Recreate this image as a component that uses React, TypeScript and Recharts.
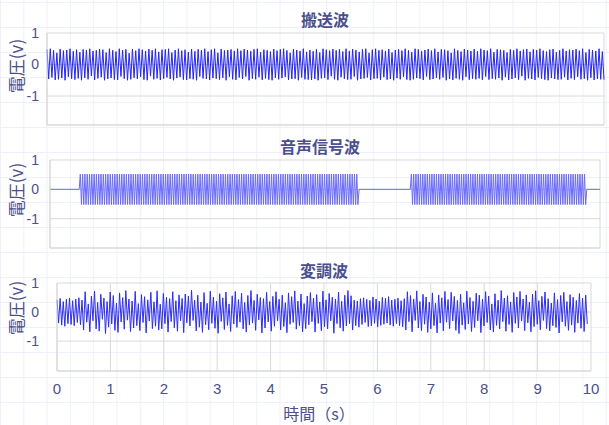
import React from 'react'
import { LineChart, Line, XAxis, YAxis, CartesianGrid } from 'recharts'

// 目盛り
const xTicks = [0, 1, 2, 3, 4, 5, 6, 7, 8, 9, 10]
const yTicks = [-1, 0, 1]

// 搬送波 (0〜10 s の標本値)
const carrierValues = [
  .48, -.46, .50, -.41, .45, -.49, .37, -.47, .49, -.43, .44, -.50, .46, -.39, .50, -.45, .42, -.48, .47, -.44,
  .39, -.50, .48, -.42, .46, -.47, .50, -.36, .43, -.49, .45, -.44, .49, -.40, .47, -.50, .38, -.46, .50, -.43,
  .45, -.48, .41, -.49, .50, -.38, .46, -.45, .48, -.50, .36, -.47, .49, -.42, .44, -.46, .50, -.39, .47, -.48,
  .43, -.50, .49, -.37, .45, -.47, .50, -.44, .40, -.49, .47, -.45, .48, -.41, .50, -.46, .38, -.50, .46, -.43,
  .50, -.40, .44, -.48, .47, -.49, .39, -.45, .49, -.47, .42, -.50, .48, -.38, .46, -.44, .50, -.46, .41, -.49,
  .47, -.43, .50, -.45, .37, -.48, .49, -.42, .45, -.50, .46, -.39, .48, -.47, .43, -.49, .50, -.41, .44, -.46,
  .49, -.38, .46, -.50, .42, -.45, .48, -.47, .50, -.40, .39, -.49, .47, -.44, .45, -.48, .41, -.50, .49, -.42,
  .44, -.47, .48, -.43, .50, -.39, .45, -.49, .37, -.46, .49, -.45, .46, -.50, .43, -.41, .50, -.47, .40, -.48,
  .46, -.49, .42, -.46, .48, -.50, .38, -.44, .50, -.42, .47, -.48, .44, -.37, .49, -.47, .45, -.50, .48, -.40,
  .41, -.45, .50, -.48, .43, -.47, .49, -.38, .46, -.50, .40, -.46, .48, -.44, .50, -.41, .37, -.49, .47, -.45,
  .50, -.44, .45, -.49, .47, -.40, .43, -.48, .49, -.46, .38, -.50, .46, -.43, .48, -.47, .44, -.39, .50, -.48,
  .45, -.50, .39, -.47, .50, -.43, .48, -.45, .42, -.49, .46, -.38, .49, -.48, .44, -.46, .50, -.42, .40, -.47,
  .48, -.41, .47, -.50, .44, -.46, .37, -.49, .50, -.44, .45, -.47, .41, -.50, .49, -.39, .46, -.48, .43, -.45,
  .49, -.47, .42, -.44, .50, -.49, .46, -.38, .44, -.48, .50, -.45, .39, -.47, .48, -.43, .47, -.50, .45, -.40,
  .38, -.49, .48, -.46, .45, -.42, .50, -.48, .43, -.37, .47, -.50, .49, -.44, .40, -.46, .48, -.49, .46, -.41,
  .50, -.45, .44, -.48, .41, -.50, .47, -.43, .49, -.46, .39, -.48, .45, -.47, .50, -.40, .43, -.49, .47, -.44,
  .46, -.48, .49, -.39, .44, -.47, .50, -.45, .38, -.50, .48, -.42, .46, -.49, .43, -.46, .50, -.47, .41, -.48,
]

// 音声信号波 (2つの区間、それ以外は 0)
const speechBurstA = [
  .52, -.52, .52, -.52, .52, -.52, .52, -.52, .52, -.52, .52, -.52, .52, -.52, .52, -.52, .52, -.52, .52, -.52,
  .52, -.52, .52, -.52, .52, -.52, .52, -.52, .52, -.52, .52, -.52, .52, -.52, .52, -.52, .52, -.52, .52, -.52,
  .52, -.52, .52, -.52, .52, -.52, .52, -.52, .52, -.52, .52, -.52, .52, -.52, .52, -.52, .52, -.52, .52, -.52,
  .52, -.52, .52, -.52, .52, -.52, .52, -.52, .52, -.52, .52, -.52, .52, -.52, .52, -.52, .52, -.52, .52, -.52,
  .52, -.52, .52, -.52, .52, -.52, .52, -.52, .52, -.52, .52, -.52, .52, -.52, .52, -.52, .52, -.52, .52, -.52,
  .52, -.52, .52, -.52, .52, -.52, .52, -.52, .52, -.52, .52, -.52, .52, -.52, .52, -.52, .52, -.52, .52, -.52,
  .52, -.52, .52, -.52, .52, -.52, .52, -.52, .52, -.52, .52, -.52, .52, -.52, .52, -.52, .52, -.52, .52, -.52,
  .52, -.52, .52, -.52, .52, -.52, .52, -.52, .52, -.52, .52, -.52, .52, -.52, .52, -.52, .52, -.52, .52, -.52,
  .52, -.52, .52, -.52, .52, -.52, .52, -.52, .52, -.52, .52, -.52, .52, -.52, .52, -.52, .52, -.52, .52, -.52,
  .52, -.52, .52, -.52, .52, -.52, .52, -.52, .52, -.52, .52, -.52, .52, -.52, .52, -.52, .52, -.52, .52, -.52,
  .52, -.52, .52, -.52, .52, -.52, .52, -.52, .52, -.52, .52, -.52, .52, -.52, .52, -.52, .52, -.52, .52, -.52,
  .52, -.52, .52, -.52, .52, -.52, .52, -.52, .52, -.52, .52, -.52, .52, -.52, .52, -.52, .52, -.52, .52, -.52,
  .52, -.52,
]
const speechBurstB = [
  .52, -.52, .52, -.52, .52, -.52, .52, -.52, .52, -.52, .52, -.52, .52, -.52, .52, -.52, .52, -.52, .52, -.52,
  .52, -.52, .52, -.52, .52, -.52, .52, -.52, .52, -.52, .52, -.52, .52, -.52, .52, -.52, .52, -.52, .52, -.52,
  .52, -.52, .52, -.52, .52, -.52, .52, -.52, .52, -.52, .52, -.52, .52, -.52, .52, -.52, .52, -.52, .52, -.52,
  .52, -.52, .52, -.52, .52, -.52, .52, -.52, .52, -.52, .52, -.52, .52, -.52, .52, -.52, .52, -.52, .52, -.52,
  .52, -.52, .52, -.52, .52, -.52, .52, -.52, .52, -.52, .52, -.52, .52, -.52, .52, -.52, .52, -.52, .52, -.52,
  .52, -.52, .52, -.52, .52, -.52, .52, -.52, .52, -.52, .52, -.52, .52, -.52, .52, -.52, .52, -.52, .52, -.52,
  .52, -.52, .52, -.52, .52, -.52, .52, -.52, .52, -.52, .52, -.52, .52, -.52, .52, -.52, .52, -.52, .52, -.52,
  .52, -.52, .52, -.52, .52, -.52, .52, -.52, .52, -.52, .52, -.52, .52, -.52,
]
const speechBursts = [
  { start: 0.53, end: 5.62, values: speechBurstA },
  { start: 6.55, end: 9.76, values: speechBurstB },
]

// 変調波 (0〜9.93 s の標本値)
const modulatedValues = [
  .42, -.38, .47, -.45, .36, -.49, .44, -.40, .48, -.43, .39, -.47, .45, -.36, .49, -.44, .41, -.62, .70, -.35,
  .28, -.68, .55, -.30, .72, -.58, .33, -.66, .61, -.25, .48, -.74, .36, -.52, .69, -.41, .57, -.63, .31, -.70,
  .66, -.34, .50, -.59, .74, -.28, .45, -.67, .38, -.55, .71, -.47, .29, -.64, .60, -.36, .53, -.72, .42, -.31,
  .68, -.57, .35, -.49, .73, -.62, .27, -.58, .64, -.40, .51, -.69, .46, -.33, .70, -.54, .39, -.66, .59, -.30,
  .47, -.71, .62, -.37, .55, -.48, .75, -.29, .41, -.65, .58, -.52, .34, -.70, .67, -.44, .30, -.61, .72, -.39,
  .52, -.56, .37, -.73, .63, -.32, .49, -.60, .69, -.46, .28, -.67, .56, -.41, .71, -.53, .43, -.35, .65, -.58,
  .33, -.69, .57, -.45, .74, -.38, .40, -.63, .61, -.27, .50, -.72, .46, -.55, .68, -.34, .36, -.66, .54, -.49,
  .70, -.31, .44, -.62, .58, -.50, .32, -.71, .66, -.42, .53, -.36, .73, -.59, .38, -.47, .62, -.68, .29, -.57,
  .55, -.44, .67, -.33, .48, -.69, .60, -.39, .35, -.64, .72, -.51, .42, -.58, .64, -.30, .51, -.73, .45, -.40,
  .69, -.54, .37, -.66, .58, -.48, .74, -.40, .56, -.62, .41, -.47, .38, -.52, .46, -.43, .49, -.36, .44, -.50,
  .40, -.48, .52, -.39, .45, -.51, .37, -.46, .50, -.42, .47, -.38, .53, -.45, .41, -.49, .44, -.40, .48, -.47,
  .39, -.51, .46, -.62, .70, -.33, .57, -.68, .45, -.29, .73, -.55, .36, -.64, .61, -.42, .52, -.70, .34, -.58,
  .66, -.47, .30, -.72, .59, -.38, .49, -.65, .71, -.35, .43, -.57, .68, -.31, .54, -.63, .40, -.74, .62, -.45,
  .32, -.60, .72, -.41, .50, -.67, .37, -.53, .65, -.30, .58, -.71, .44, -.48, .70, -.36, .55, -.62, .28, -.69,
  .63, -.46, .41, -.58, .74, -.33, .48, -.66, .56, -.43, .35, -.70, .67, -.39, .52, -.55, .71, -.31, .45, -.64,
  .59, -.37, .34, -.68, .62, -.50, .73, -.42, .39, -.61, .54, -.29, .69, -.57, .46, -.65, .31, -.47, .66, -.53,
  .43, -.72, .57, -.34, .68, -.49, .36, -.63, .60, -.45, .51, -.70, .40, -.38, .64, -.56, .48, -.67, .58, -.41,
]

const carrierEnd = 10
const modulatedEnd = 9.93

const TEXT = '#4b4f8c'
const GRID = '#d9d9d9'
const FONT = '"Liberation Sans", "Noto Sans CJK JP", sans-serif'
const CJK = '"Noto Sans CJK JP", sans-serif'

function sampled(values: number[], end: number) {
  return values.map((v, i) => ({ t: (i * end) / (values.length - 1), v }))
}

function speechTable() {
  const rows = [{ t: 0, v: 0 }]
  speechBursts.forEach((b) => {
    rows.push({ t: b.start, v: 0 })
    b.values.forEach((v, i) => {
      rows.push({ t: b.start + ((b.end - b.start) * (i + 1)) / (b.values.length + 1), v })
    })
    rows.push({ t: b.end, v: 0 })
  })
  rows.push({ t: 10, v: 0 })
  return rows
}

interface PanelProps {
  data: { t: number; v: number }[]
  top: number
  plotLeft: number
  plotWidth: number
  plotHeight: number
  yMin: number
  color: string
  tickMargin: number
  showX?: boolean
}

function WavePanel({ data, top, plotLeft, plotWidth, plotHeight, yMin, color, tickMargin, showX }: PanelProps) {
  const mTop = 10
  const mRight = showX ? 16 : 4
  const xH = showX ? 40 : 1
  return (
    <div style={{ position: 'absolute', left: 0, top: top - mTop }}>
      <LineChart
        width={plotLeft + plotWidth + mRight}
        height={mTop + plotHeight + xH}
        data={data}
        margin={{ top: mTop, right: mRight, bottom: 0, left: 0 }}
      >
        <CartesianGrid stroke={GRID} />
        <XAxis
          dataKey="t"
          type="number"
          domain={[0, 10]}
          ticks={xTicks}
          height={xH}
          tick={showX ? { fill: TEXT, fontSize: 15, fontFamily: FONT } : false}
          tickLine={false}
          tickSize={6}
          tickMargin={6}
          axisLine={{ stroke: GRID }}
          interval={0}
        />
        <YAxis
          type="number"
          domain={[yMin, 1]}
          ticks={yTicks}
          allowDataOverflow
          width={plotLeft}
          tick={{ fill: TEXT, fontSize: 14, fontFamily: FONT }}
          tickLine={false}
          tickSize={6}
          tickMargin={tickMargin}
          axisLine={{ stroke: GRID }}
          interval={0}
        />
        <Line
          type="linear"
          dataKey="v"
          stroke={color}
          strokeWidth={1}
          dot={false}
          isAnimationActive={false}
        />
      </LineChart>
    </div>
  )
}

function Title({ text, cx, cy }: { text: string; cx: number; cy: number }) {
  return (
    <div
      style={{
        position: 'absolute', left: cx - 100, top: cy - 12, width: 200, textAlign: 'center',
        fontFamily: CJK, fontWeight: 700, fontSize: 16, lineHeight: '24px', color: TEXT,
      }}
    >
      {text}
    </div>
  )
}

function VoltLabel({ cy }: { cy: number }) {
  return (
    <div
      style={{
        position: 'absolute', left: 16, top: cy, transform: 'translate(-50%, -50%) rotate(-90deg)',
        whiteSpace: 'nowrap', fontFamily: CJK, fontSize: 17, lineHeight: '20px', color: TEXT,
      }}
    >
      電圧(v)
    </div>
  )
}

export default function App() {
  return (
    <div
      style={{
        position: 'relative', width: 609, height: 425, overflow: 'hidden', background: '#fff',
        backgroundImage:
          'linear-gradient(to right, #eef1fb 1px, transparent 1px), linear-gradient(to bottom, #eef1fb 1px, transparent 1px)',
        backgroundSize: '23.3px 25px',
        backgroundPosition: '0 2px',
      }}
    >
      <style>{'body{margin:0}'}</style>

      <Title text="搬送波" cx={325} cy={19} />
      <WavePanel
        data={sampled(carrierValues, carrierEnd)}
        top={33} plotLeft={47} plotWidth={557} plotHeight={92} yMin={-1.92}
        color="#2323ff" tickMargin={2}
      />
      <VoltLabel cy={66} />

      <Title text="音声信号波" cx={320} cy={146} />
      <WavePanel
        data={speechTable()}
        top={160} plotLeft={50} plotWidth={550} plotHeight={88} yMin={-2}
        color="#6a6aff" tickMargin={5}
      />
      <VoltLabel cy={190} />

      <Title text="変調波" cx={324} cy={270} />
      <WavePanel
        data={sampled(modulatedValues, modulatedEnd)}
        top={283} plotLeft={57} plotWidth={534} plotHeight={88} yMin={-2.03}
        color="#2b2bff" tickMargin={12} showX
      />
      <VoltLabel cy={308} />

      <div
        style={{
          position: 'absolute', left: 219, top: 401, width: 200, textAlign: 'center',
          fontFamily: CJK, fontSize: 16, lineHeight: '24px', color: TEXT,
        }}
      >
        時間（s）
      </div>
    </div>
  )
}
